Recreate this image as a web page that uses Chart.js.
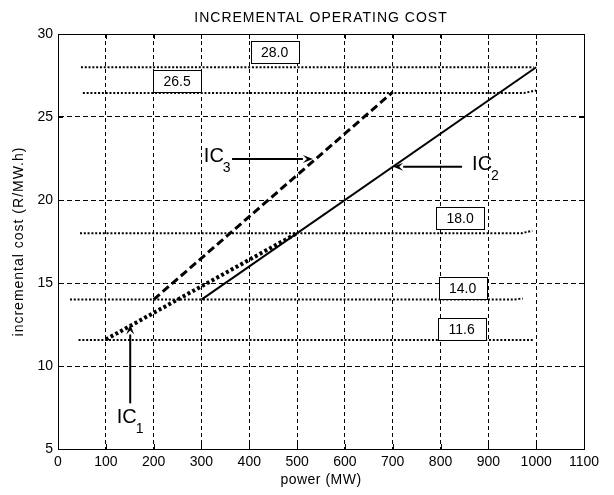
<!DOCTYPE html>
<html>
<head>
<meta charset="utf-8">
<script src="https://cdn.jsdelivr.net/npm/chart.js@4.4.1/dist/chart.umd.min.js"></script>
<style>
  html, body { margin: 0; padding: 0; background: #fff; }
  #wrap { width: 614px; height: 495px; }
</style>
</head>
<body>
<div id="wrap"><canvas id="icChart" width="614" height="495"></canvas></div>
<script>
// curvas de custo incremental (MW -> R/MW.h)
const ic1Power = [100, 500];
const ic1Cost = [11.6, 18.0];
const ic2Power = [300, 1000];
const ic2Cost = [14.0, 28.0];
const ic3Power = [200, 700];
const ic3Cost = [14.0, 26.5];

// niveis lambda (linhas pontilhadas horizontais)
const levelNames = ['28.0', '26.5', '18.0', '14.0', '11.6'];
const levelPower = [[48, 995], [52, 975, 1000], [46, 970, 992], [25, 950, 972], [43, 993]];
const levelCost = [[28.0, 28.0], [26.45, 26.45, 26.6], [18.0, 18.0, 18.15], [14.0, 14.0, 14.06], [11.57, 11.57]];
const levelBoxPower = [453, 249, 841, 846, 844];
const levelBoxCost = [28.9, 27.15, 18.9, 14.7, 12.25];

// setas IC1, IC2, IC3
const arrowSubs = ['1', '2', '3'];
const arrowFrom = [[151, 7.75], [845, 22.0], [364, 22.47]];
const arrowTo = [[151, 12.5], [701, 22.0], [533, 22.47]];
const arrowText = [[123, 6.55], [866, 21.8], [305, 22.3]];

const xTicks = [0, 100, 200, 300, 400, 500, 600, 700, 800, 900, 1000, 1100];
const yTicks = [5, 10, 15, 20, 25, 30];

const FONT = "'Liberation Sans', Arial, sans-serif";

const toPts = (xs, ys) => xs.map((x, i) => ({ x: x, y: ys[i] }));

const datasets = [];
levelNames.forEach((name, i) => {
    datasets.push({
        label: name,
        data: toPts(levelPower[i], levelCost[i]),
        borderColor: '#000', borderWidth: 2, borderDash: [2, 1.8]
    });
});
datasets.push({ label: 'IC1', data: toPts(ic1Power, ic1Cost), borderColor: '#000', borderWidth: 4, borderDash: [3, 2.5] });
datasets.push({ label: 'IC2', data: toPts(ic2Power, ic2Cost), borderColor: '#000', borderWidth: 2 });
datasets.push({ label: 'IC3', data: toPts(ic3Power, ic3Cost), borderColor: '#000', borderWidth: 3, borderDash: [8, 4] });

// textos, caixas, setas e moldura
const decorPlugin = {
    id: 'decor',
    afterDatasetsDraw(chart) {
        const ctx = chart.ctx;
        const xs = chart.scales.x, ys = chart.scales.y;
        const a = chart.chartArea;
        const px = v => xs.getPixelForValue(v);
        const py = v => ys.getPixelForValue(v);

        ctx.save();
        ctx.strokeStyle = '#000';
        ctx.fillStyle = '#000';

        // moldura + ticks para dentro
        ctx.lineWidth = 1;
        ctx.setLineDash([]);
        ctx.strokeRect(a.left + 0.5, a.top + 0.5, a.right - a.left, a.bottom - a.top);
        ctx.beginPath();
        xTicks.forEach(t => {
            const x = Math.round(px(t)) + 0.5;
            ctx.moveTo(x, a.bottom); ctx.lineTo(x, a.bottom - 5);
            ctx.moveTo(x, a.top); ctx.lineTo(x, a.top + 5);
        });
        yTicks.forEach(t => {
            const y = Math.round(py(t)) + 0.5;
            ctx.moveTo(a.left, y); ctx.lineTo(a.left + 5, y);
            ctx.moveTo(a.right, y); ctx.lineTo(a.right - 5, y);
        });
        ctx.stroke();

        // caixas dos niveis
        ctx.font = '14px ' + FONT;
        ctx.textAlign = 'center';
        ctx.textBaseline = 'middle';
        levelNames.forEach((name, i) => {
            const cx = px(levelBoxPower[i]), cy = py(levelBoxCost[i]);
            const w = 48, h = 22;
            const l = Math.round(cx - w / 2) + 0.5, t = Math.round(cy - h / 2) + 0.5;
            ctx.fillStyle = '#fff';
            ctx.fillRect(l, t, w, h);
            ctx.strokeRect(l, t, w, h);
            ctx.fillStyle = '#000';
            ctx.fillText(name, cx, cy + 1);
        });

        // setas
        arrowFrom.forEach((f, i) => {
            const x1 = px(f[0]), y1 = py(f[1]);
            const x2 = px(arrowTo[i][0]), y2 = py(arrowTo[i][1]);
            const ang = Math.atan2(y2 - y1, x2 - x1);
            const hl = 10, hw = 4;
            const bx = x2 - hl * Math.cos(ang), by = y2 - hl * Math.sin(ang);
            ctx.lineWidth = 2;
            ctx.beginPath();
            ctx.moveTo(x1, y1); ctx.lineTo(bx, by);
            ctx.stroke();
            ctx.beginPath();
            ctx.moveTo(x2, y2);
            ctx.lineTo(bx - hw * Math.sin(ang), by + hw * Math.cos(ang));
            ctx.lineTo(x2 - 0.6 * hl * Math.cos(ang), y2 - 0.6 * hl * Math.sin(ang));
            ctx.lineTo(bx + hw * Math.sin(ang), by - hw * Math.cos(ang));
            ctx.closePath();
            ctx.fill();

            const tx = px(arrowText[i][0]), ty = py(arrowText[i][1]);
            ctx.textAlign = 'left';
            ctx.textBaseline = 'alphabetic';
            ctx.font = '20px ' + FONT;
            ctx.fillText('IC', tx, ty);
            const w = ctx.measureText('IC').width;
            ctx.font = '14px ' + FONT;
            ctx.fillText(arrowSubs[i], tx + w - 1, ty + 10);
        });

        // titulos
        ctx.font = '14px ' + FONT;
        ctx.letterSpacing = '1px';
        ctx.textAlign = 'center';
        ctx.textBaseline = 'middle';
        ctx.fillText('INCREMENTAL OPERATING COST', (a.left + a.right) / 2, 18);
        ctx.letterSpacing = '0.5px';
        ctx.fillText('power (MW)', (a.left + a.right) / 2, 480);
        ctx.letterSpacing = '1px';
        ctx.translate(19, (a.top + a.bottom) / 2);
        ctx.rotate(-Math.PI / 2);
        ctx.fillText('incremental cost (R/MW.h)', 0, 0);
        ctx.restore();
    }
};

new Chart(document.getElementById('icChart'), {
    type: 'scatter',
    data: { datasets: datasets },
    options: {
        responsive: false,
        devicePixelRatio: 1,
        animation: false,
        showLine: true,
        elements: { point: { radius: 0 }, line: { tension: 0 } },
        layout: { padding: { top: 34, right: 30, left: 0, bottom: 0 } },
        plugins: { legend: { display: false }, tooltip: { enabled: false } },
        scales: {
            x: {
                type: 'linear', min: 0, max: 1100,
                afterFit: s => { s.height = 46; },
                afterBuildTicks: s => { s.ticks = xTicks.map(v => ({ value: v })); },
                ticks: { color: '#000', font: { family: FONT, size: 14 }, padding: 5, maxRotation: 0, autoSkip: false,
                         callback: v => String(v) },
                grid: { color: '#000', lineWidth: 1, drawTicks: false },
                border: { display: true, color: '#000', width: 1, dash: [4, 3] }
            },
            y: {
                type: 'linear', min: 5, max: 30,
                afterFit: s => { s.width = 58; },
                afterBuildTicks: s => { s.ticks = yTicks.map(v => ({ value: v })); },
                ticks: { color: '#000', font: { family: FONT, size: 14 }, padding: 5, callback: v => String(v) },
                grid: { color: '#000', lineWidth: 1, drawTicks: false },
                border: { display: true, color: '#000', width: 1, dash: [5, 3] }
            }
        }
    },
    plugins: [decorPlugin]
});
</script>
</body>
</html>
